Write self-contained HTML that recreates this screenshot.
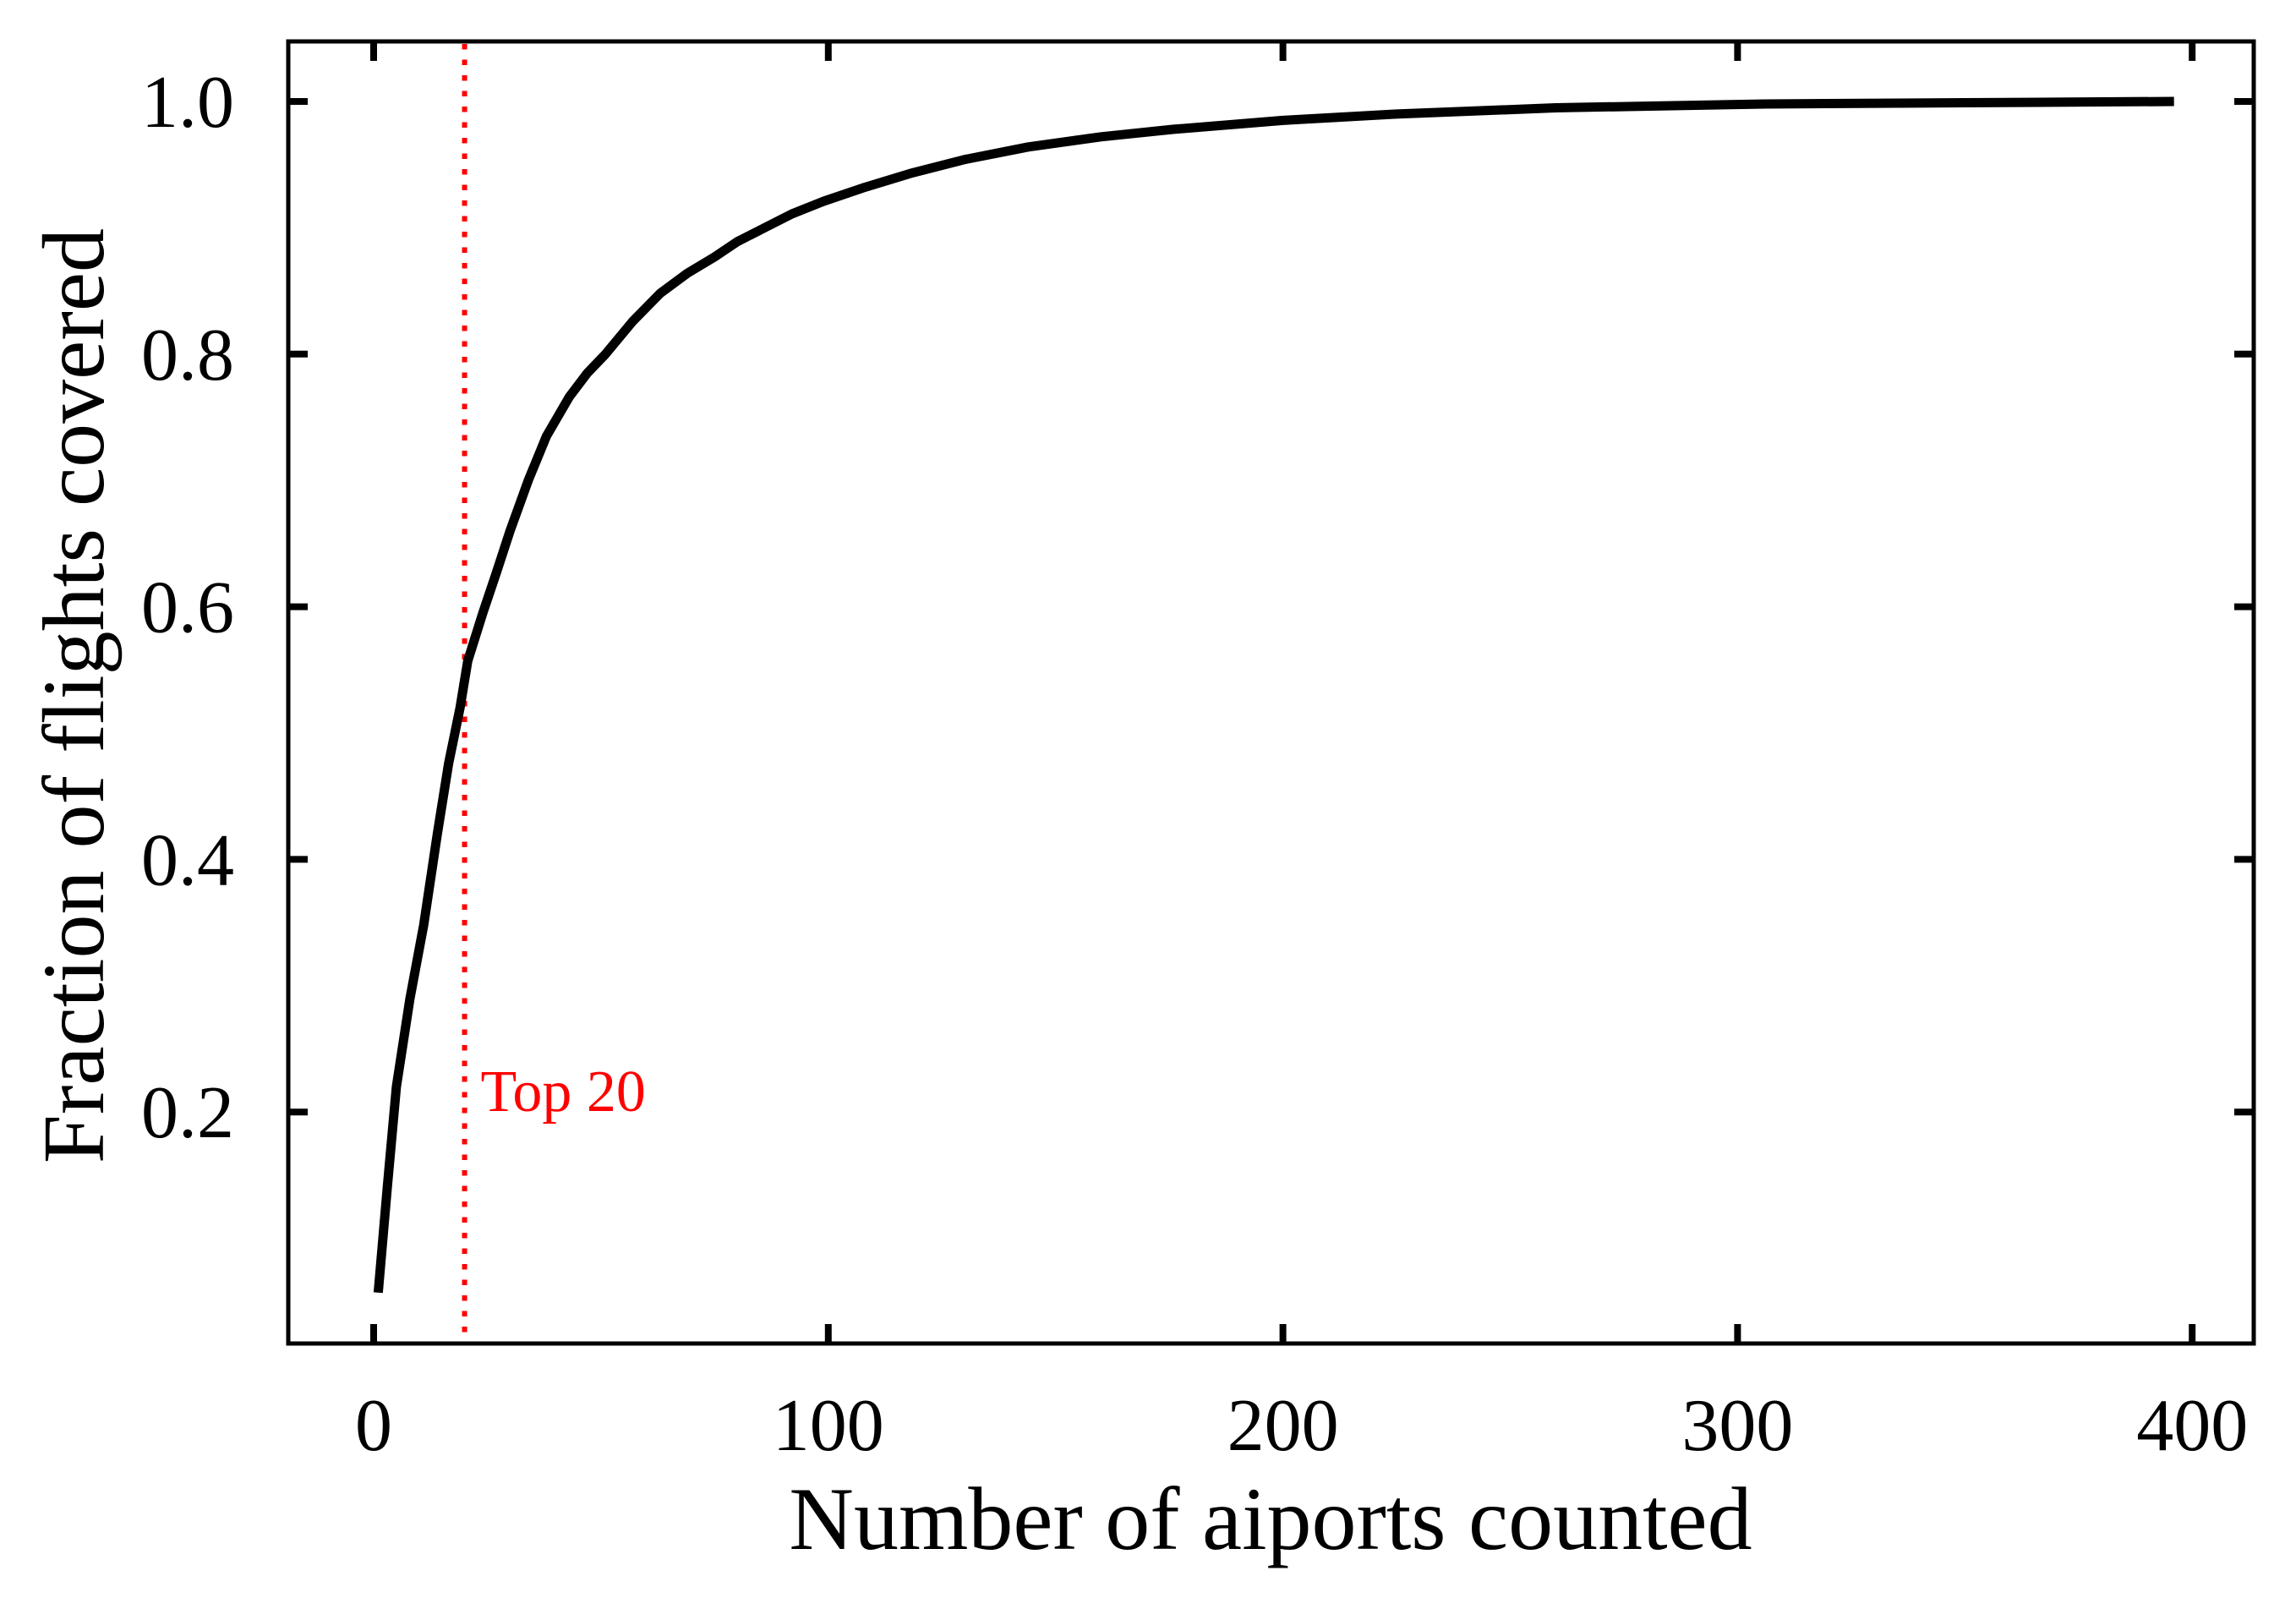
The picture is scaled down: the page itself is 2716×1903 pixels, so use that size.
<!DOCTYPE html>
<html><head><meta charset="utf-8"><style>
body{margin:0;background:#fff}
svg text{font-family:"Liberation Serif",serif}
</style></head><body>
<svg id="chart" width="2716" height="1898" viewBox="0 0 2716 1898" xmlns="http://www.w3.org/2000/svg">
<g id="plot"></g>
</svg>
<script>
const xValues=[1,3,5,8,11,14,16.5,19,20.7,24,27,30,34,38,43,47,51,57,63,69,75,80,86,92,99,108,118,130,144,160,176,200,225,260,306,350,396];
const yValues=[0.057,0.14,0.22,0.29,0.348,0.42,0.476,0.52,0.557,0.595,0.627,0.66,0.70,0.735,0.766,0.785,0.80,0.826,0.848,0.864,0.877,0.889,0.90,0.911,0.921,0.932,0.943,0.954,0.964,0.972,0.978,0.985,0.99,0.995,0.998,0.999,1.0];
const xTicks=[0,100,200,300,400];
const yTicks=[0.2,0.4,0.6,0.8,1.0];
const markerX=20;
const NS="http://www.w3.org/2000/svg";
const L=341,R=2666,T=49,B=1589;
const sx=v=>442+v*5.378;
const sy=v=>120+(1-v)*1494;
const g=document.getElementById('plot');
function mk(tag,attrs,parent){const e=document.createElementNS(NS,tag);for(const k in attrs)e.setAttribute(k,attrs[k]);(parent||g).appendChild(e);return e;}
const ml=mk('line',{x1:sx(markerX),x2:sx(markerX),y1:T+3,y2:B-3,stroke:'#ff0000','stroke-width':6,'stroke-dasharray':'6.5 12'});


const mt=mk('text',{x:sx(markerX)+19,y:1314,'font-size':70,fill:'#ff0000'});mt.textContent='Top 20';


const pts=xValues.map((x,i)=>sx(x).toFixed(1)+','+sy(yValues[i]).toFixed(1)).join(' ');
const cv=mk('polyline',{points:pts,fill:'none',stroke:'#000','stroke-width':11,'stroke-linejoin':'round'});


const fr=mk('rect',{x:L,y:T,width:R-L,height:B-T,fill:'none',stroke:'#000','stroke-width':5});


xTicks.forEach(v=>{
  const x=sx(v);
  mk('line',{x1:x,x2:x,y1:B,y2:B-23,stroke:'#000','stroke-width':8});
  mk('line',{x1:x,x2:x,y1:T,y2:T+23,stroke:'#000','stroke-width':8});
  const t=mk('text',{x:x,y:1715,'font-size':88,'text-anchor':'middle'});t.textContent=v;
  
  
});
yTicks.forEach(v=>{
  const y=sy(v);
  mk('line',{x1:L,x2:L+23,y1:y,y2:y,stroke:'#000','stroke-width':8});
  mk('line',{x1:R,x2:R-23,y1:y,y2:y,stroke:'#000','stroke-width':8});
  const t=mk('text',{x:277,y:y+30,'font-size':88,'text-anchor':'end'});t.textContent=v.toFixed(1);
  
  
});
const xt=mk('text',{x:1503,y:1832,'font-size':106,'text-anchor':'middle'});xt.textContent='Number of aiports counted';


const yt=mk('text',{x:0,y:0,'font-size':104,'text-anchor':'middle',transform:'translate(122,823) rotate(-90)'});yt.textContent='Fraction of flights covered';


</script>
</body></html>
